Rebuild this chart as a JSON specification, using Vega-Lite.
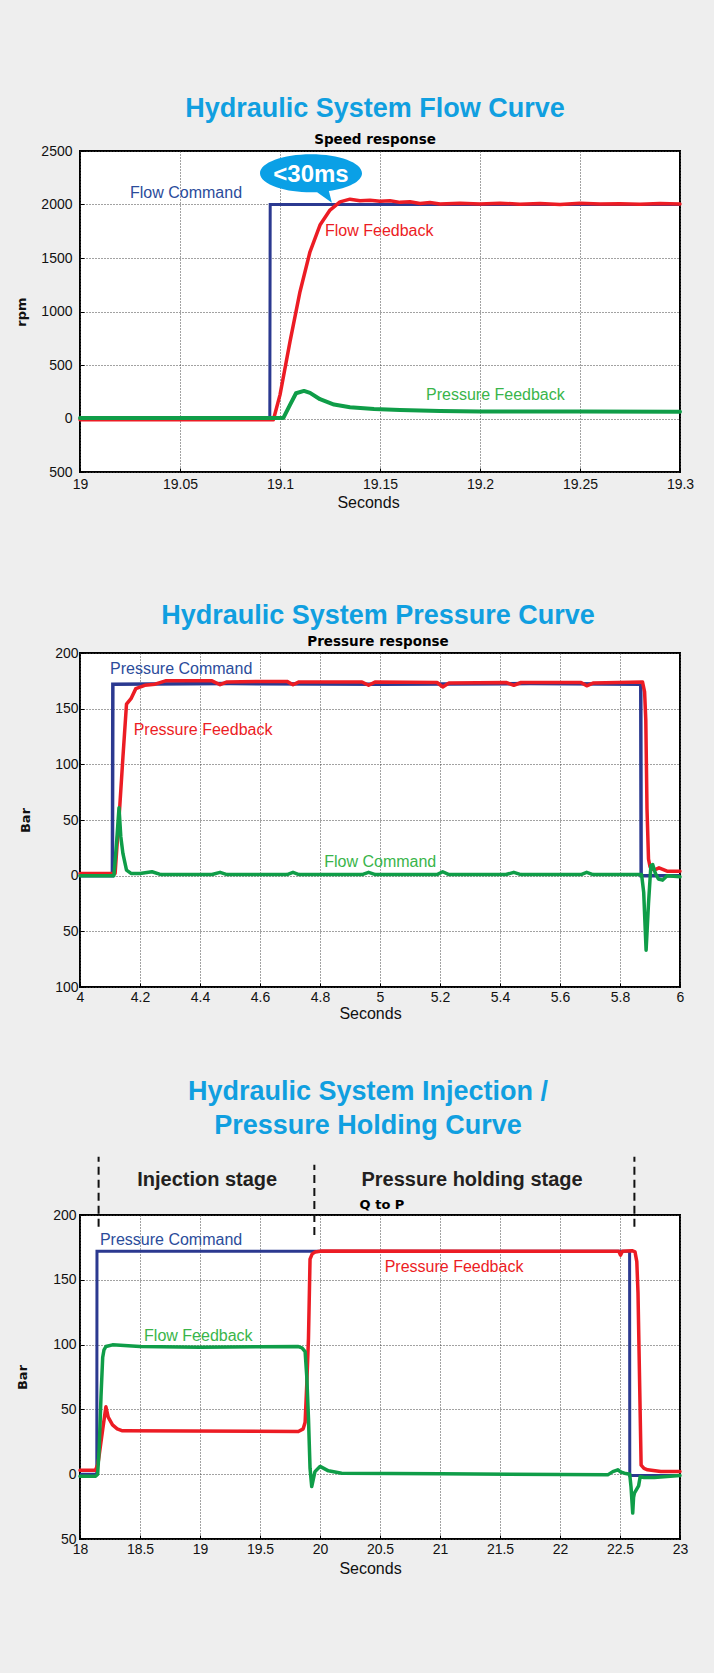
{
  "$schema": "https://vega.github.io/schema/vega-lite/v6.json",
  "background": "#eeeeee",
  "padding": {"left": 14, "top": 94, "right": 20, "bottom": 119},
  "autosize": {"type": "pad"},
  "config": {
    "view": {"stroke": "#000000", "strokeWidth": 2, "fill": "#ffffff"},
    "axis": {
      "domain": false, "grid": true, "gridColor": "#444444", "gridDash": [1, 2], "gridWidth": 1,
      "ticks": true, "tickSize": -4, "tickColor": "#000000", "tickWidth": 1,
      "labelFont": "Liberation Sans", "labelFontSize": 14, "labelColor": "#111111",
      "labelFlush": false, "labelOverlap": false,
      "titleFont": "Liberation Sans", "titleFontSize": 16, "titleFontWeight": "normal", "titleColor": "#111111"
    },
    "axisY": {"titleFont": "DejaVu Sans", "titleFontWeight": "bold", "titleFontSize": 13},
    "title": {"anchor": "middle", "frame": "group", "font": "Liberation Sans", "fontSize": 27, "fontWeight": "bold", "color": "#109fe0",
      "subtitleFont": "DejaVu Sans", "subtitleFontSize": 13.5, "subtitleFontWeight": "bold", "subtitleColor": "#000000"}
  },
  "datasets": {
    "c1_cmd": [{"t": 19, "v": 0}, {"t": 19.0949, "v": 0}, {"t": 19.0951, "v": 2000}, {"t": 19.3, "v": 2000}],
    "c1_flow": [
      {"t": 19.0, "v": -12}, {"t": 19.0967, "v": -12}, {"t": 19.1, "v": 221}, {"t": 19.105, "v": 718},
      {"t": 19.11, "v": 1185}, {"t": 19.115, "v": 1558}, {"t": 19.12, "v": 1808}, {"t": 19.125, "v": 1948},
      {"t": 19.13, "v": 2025}, {"t": 19.135, "v": 2050}, {"t": 19.14, "v": 2035}, {"t": 19.145, "v": 2040},
      {"t": 19.15, "v": 2030}, {"t": 19.155, "v": 2035}, {"t": 19.16, "v": 2020}, {"t": 19.165, "v": 2025},
      {"t": 19.17, "v": 2010}, {"t": 19.175, "v": 2018}, {"t": 19.18, "v": 2005}, {"t": 19.19, "v": 2012},
      {"t": 19.2, "v": 2005}, {"t": 19.21, "v": 2012}, {"t": 19.22, "v": 2003}, {"t": 19.23, "v": 2010},
      {"t": 19.24, "v": 2000}, {"t": 19.25, "v": 2012}, {"t": 19.26, "v": 2005}, {"t": 19.27, "v": 2008},
      {"t": 19.28, "v": 2002}, {"t": 19.29, "v": 2010}, {"t": 19.3, "v": 2005}
    ],
    "c1_pres": [
      {"t": 19.0, "v": 5}, {"t": 19.1017, "v": 5}, {"t": 19.105, "v": 128}, {"t": 19.108, "v": 236},
      {"t": 19.112, "v": 258}, {"t": 19.115, "v": 240}, {"t": 19.12, "v": 180}, {"t": 19.127, "v": 130},
      {"t": 19.135, "v": 105}, {"t": 19.147, "v": 88}, {"t": 19.16, "v": 80}, {"t": 19.18, "v": 70},
      {"t": 19.2, "v": 65}, {"t": 19.25, "v": 66}, {"t": 19.3, "v": 62}
    ],
    "c2_cmd": [
      {"t": 4, "v": 0}, {"t": 4.108, "v": 0}, {"t": 4.1095, "v": 172}, {"t": 4.5, "v": 172.5}, {"t": 5.0, "v": 172},
      {"t": 5.5, "v": 172.5}, {"t": 5.8692, "v": 172}, {"t": 5.8705, "v": 0}, {"t": 6, "v": 0}
    ],
    "c2_pfb": [
      {"t": 4, "v": 2}, {"t": 4.117, "v": 2}, {"t": 4.133, "v": 64}, {"t": 4.143, "v": 106}, {"t": 4.155, "v": 154},
      {"t": 4.17, "v": 159}, {"t": 4.186, "v": 168}, {"t": 4.216, "v": 171}, {"t": 4.25, "v": 172}, {"t": 4.285, "v": 175},
      {"t": 4.44, "v": 175}, {"t": 4.467, "v": 171.5}, {"t": 4.49, "v": 174}, {"t": 4.6, "v": 174.5}, {"t": 4.69, "v": 174.5},
      {"t": 4.71, "v": 171.5}, {"t": 4.73, "v": 174}, {"t": 4.94, "v": 174}, {"t": 4.962, "v": 171}, {"t": 4.985, "v": 174},
      {"t": 5.19, "v": 173.5}, {"t": 5.209, "v": 169.5}, {"t": 5.23, "v": 173}, {"t": 5.42, "v": 173.5}, {"t": 5.446, "v": 171},
      {"t": 5.47, "v": 173.5}, {"t": 5.67, "v": 173.5}, {"t": 5.689, "v": 170.5}, {"t": 5.71, "v": 173}, {"t": 5.875, "v": 174},
      {"t": 5.882, "v": 165}, {"t": 5.886, "v": 140}, {"t": 5.89, "v": 60}, {"t": 5.895, "v": 15}, {"t": 5.9, "v": 8},
      {"t": 5.914, "v": 5}, {"t": 5.93, "v": 7}, {"t": 5.957, "v": 4}, {"t": 6, "v": 4}
    ],
    "c2_flow": [
      {"t": 4, "v": 0}, {"t": 4.113, "v": 0}, {"t": 4.122, "v": 30}, {"t": 4.13, "v": 61}, {"t": 4.136, "v": 35},
      {"t": 4.143, "v": 20}, {"t": 4.155, "v": 5}, {"t": 4.17, "v": 2}, {"t": 4.2, "v": 2}, {"t": 4.24, "v": 3.5},
      {"t": 4.27, "v": 1}, {"t": 4.44, "v": 1}, {"t": 4.467, "v": 3}, {"t": 4.49, "v": 1}, {"t": 4.69, "v": 1},
      {"t": 4.71, "v": 3}, {"t": 4.73, "v": 1}, {"t": 4.94, "v": 1}, {"t": 4.962, "v": 3}, {"t": 4.985, "v": 1},
      {"t": 5.19, "v": 1}, {"t": 5.209, "v": 3.5}, {"t": 5.23, "v": 1}, {"t": 5.42, "v": 1}, {"t": 5.446, "v": 3},
      {"t": 5.47, "v": 1}, {"t": 5.67, "v": 1}, {"t": 5.689, "v": 3}, {"t": 5.71, "v": 1}, {"t": 5.872, "v": 1},
      {"t": 5.879, "v": -15}, {"t": 5.887, "v": -67}, {"t": 5.895, "v": -25}, {"t": 5.903, "v": 9}, {"t": 5.909, "v": 10},
      {"t": 5.918, "v": 2}, {"t": 5.928, "v": -3}, {"t": 5.942, "v": -4}, {"t": 5.957, "v": 0}, {"t": 6, "v": -1}
    ],
    "c3_cmd": [
      {"t": 18, "v": 0}, {"t": 18.14, "v": 0}, {"t": 18.1415, "v": 172}, {"t": 22.58, "v": 172},
      {"t": 22.5815, "v": -1}, {"t": 23, "v": -1}
    ],
    "c3_pfb": [
      {"t": 18, "v": 3}, {"t": 18.128, "v": 3}, {"t": 18.15, "v": 8}, {"t": 18.19, "v": 35}, {"t": 18.216, "v": 52},
      {"t": 18.235, "v": 44}, {"t": 18.271, "v": 38}, {"t": 18.31, "v": 35}, {"t": 18.354, "v": 33.5}, {"t": 19.82, "v": 33},
      {"t": 19.86, "v": 35}, {"t": 19.876, "v": 40}, {"t": 19.89, "v": 70}, {"t": 19.904, "v": 105}, {"t": 19.917, "v": 166},
      {"t": 19.935, "v": 170}, {"t": 19.96, "v": 171.5}, {"t": 20.014, "v": 172.2}, {"t": 22.49, "v": 172}, {"t": 22.504, "v": 169},
      {"t": 22.52, "v": 172}, {"t": 22.6, "v": 172.5}, {"t": 22.625, "v": 171.5}, {"t": 22.64, "v": 164}, {"t": 22.65, "v": 140},
      {"t": 22.676, "v": 7}, {"t": 22.7, "v": 4.5}, {"t": 22.73, "v": 3.4}, {"t": 22.84, "v": 2}, {"t": 23, "v": 2}
    ],
    "c3_flow": [
      {"t": 18, "v": -1.5}, {"t": 18.13, "v": -1.5}, {"t": 18.147, "v": 0}, {"t": 18.16, "v": 20}, {"t": 18.175, "v": 60},
      {"t": 18.189, "v": 90}, {"t": 18.2, "v": 96}, {"t": 18.216, "v": 98.5}, {"t": 18.271, "v": 99.8}, {"t": 18.5, "v": 98.5},
      {"t": 19, "v": 98}, {"t": 19.5, "v": 98.3}, {"t": 19.82, "v": 98.5}, {"t": 19.85, "v": 97.5}, {"t": 19.876, "v": 94.6},
      {"t": 19.89, "v": 75}, {"t": 19.904, "v": 43}, {"t": 19.917, "v": 4.6}, {"t": 19.931, "v": -9.5}, {"t": 19.958, "v": 2},
      {"t": 20.0, "v": 6}, {"t": 20.07, "v": 2.6}, {"t": 20.18, "v": 0.8}, {"t": 21, "v": 0.3}, {"t": 22, "v": -0.3},
      {"t": 22.398, "v": -0.5}, {"t": 22.44, "v": 2}, {"t": 22.481, "v": 3.4}, {"t": 22.51, "v": 1.5}, {"t": 22.537, "v": 0.8},
      {"t": 22.581, "v": 0}, {"t": 22.592, "v": -10}, {"t": 22.606, "v": -30}, {"t": 22.613, "v": -18}, {"t": 22.62, "v": -14.6},
      {"t": 22.655, "v": -9}, {"t": 22.668, "v": -2}, {"t": 22.7, "v": -2.5}, {"t": 22.786, "v": -2.5}, {"t": 23, "v": -1}
    ]
  },
  "vconcat": [
    {
      "width": 600,
      "height": 321,
      "title": {"text": "Hydraulic System Flow Curve", "subtitle": "Speed response", "dx": -5, "offset": -3.6, "subtitlePadding": 10},
      "encoding": {
        "x": {"field": "t", "type": "quantitative", "title": "Seconds",
          "scale": {"domain": [19, 19.3], "nice": false, "zero": false},
          "axis": {"values": [19, 19.05, 19.1, 19.15, 19.2, 19.25, 19.3], "labelExpr": "format(datum.value, '~g')", "labelPadding": 9, "titlePadding": 3, "titleX": 288}},
        "y": {"field": "v", "type": "quantitative", "title": "rpm",
          "scale": {"domain": [-500, 2500], "nice": false, "zero": false},
          "axis": {"values": [-500, 0, 500, 1000, 1500, 2000, 2500], "labelExpr": "format(abs(datum.value), 'd')", "labelPadding": 12, "titlePadding": 12}}
      },
      "layer": [
        {"data": {"name": "c1_cmd"}, "mark": {"type": "line", "color": "#2b3990", "strokeWidth": 3, "strokeJoin": "miter"}},
        {"data": {"name": "c1_flow"}, "mark": {"type": "line", "color": "#ec1c24", "strokeWidth": 3.5, "strokeJoin": "round", "strokeCap": "round"}},
        {"data": {"name": "c1_pres"}, "mark": {"type": "line", "color": "#0f9d48", "strokeWidth": 4, "strokeJoin": "round", "strokeCap": "round"}},
        {"data": {"values": [{"t": 19.1155, "v": 2292}]},
          "mark": {"type": "point", "filled": true, "opacity": 1, "color": "#0aa0e6", "size": 10404,
            "shape": "M-1,0 A1,0.3725 0 0 1 1,0 A1,0.3725 0 0 1 0.35,0.349 L0.41,0.58 L0.12,0.37 A1,0.3725 0 0 1 -1,0 Z"}},
        {"data": {"values": [{"t": 19.1155, "v": 2280, "label": "<30ms"}]},
          "mark": {"type": "text", "color": "#ffffff", "font": "Liberation Sans", "fontWeight": "bold", "fontSize": 24, "align": "center", "baseline": "middle"},
          "encoding": {"text": {"field": "label"}}},
        {"data": {"values": [{"t": 19.025, "v": 2108, "label": "Flow Command"}]},
          "mark": {"type": "text", "color": "#2b4c9b", "font": "Liberation Sans", "fontSize": 16, "align": "left", "baseline": "middle"},
          "encoding": {"text": {"field": "label"}}},
        {"data": {"values": [{"t": 19.1225, "v": 1757, "label": "Flow Feedback"}]},
          "mark": {"type": "text", "color": "#ec1c24", "font": "Liberation Sans", "fontSize": 16, "align": "left", "baseline": "middle"},
          "encoding": {"text": {"field": "label"}}},
        {"data": {"values": [{"t": 19.173, "v": 216, "label": "Pressure Feedback"}]},
          "mark": {"type": "text", "color": "#39b54a", "font": "Liberation Sans", "fontSize": 16, "align": "left", "baseline": "middle"},
          "encoding": {"text": {"field": "label"}}}
      ]
    },
    {
      "spacing": 54,
      "vconcat": [
        {
          "width": 600,
          "height": 334,
          "title": {"text": "Hydraulic System Pressure Curve", "subtitle": "Pressure response", "dx": -2, "offset": -3.6, "subtitlePadding": 5},
          "encoding": {
            "x": {"field": "t", "type": "quantitative", "title": "Seconds",
              "scale": {"domain": [4, 6], "nice": false, "zero": false},
              "axis": {"values": [4, 4.2, 4.4, 4.6, 4.8, 5, 5.2, 5.4, 5.6, 5.8, 6], "labelExpr": "format(datum.value, '~g')", "labelPadding": 7, "titlePadding": 1, "titleX": 290}},
            "y": {"field": "v", "type": "quantitative", "title": "Bar",
              "scale": {"domain": [-100, 200], "nice": false, "zero": false},
              "axis": {"values": [-100, -50, 0, 50, 100, 150, 200], "labelExpr": "format(abs(datum.value), 'd')", "labelPadding": 6, "titlePadding": 22}}
          },
          "layer": [
            {"data": {"name": "c2_cmd"}, "mark": {"type": "line", "color": "#2b3990", "strokeWidth": 3.5, "strokeJoin": "miter"}},
            {"data": {"name": "c2_pfb"}, "mark": {"type": "line", "color": "#ec1c24", "strokeWidth": 3.5, "strokeJoin": "round", "strokeCap": "round"}},
            {"data": {"name": "c2_flow"}, "mark": {"type": "line", "color": "#0f9d48", "strokeWidth": 3.5, "strokeJoin": "round", "strokeCap": "round"}},
            {"data": {"values": [{"t": 4.1, "v": 185.6, "label": "Pressure Command"}]},
              "mark": {"type": "text", "color": "#2b4c9b", "font": "Liberation Sans", "fontSize": 16, "align": "left", "baseline": "middle"},
              "encoding": {"text": {"field": "label"}}},
            {"data": {"values": [{"t": 4.179, "v": 131, "label": "Pressure Feedback"}]},
              "mark": {"type": "text", "color": "#ec1c24", "font": "Liberation Sans", "fontSize": 16, "align": "left", "baseline": "middle"},
              "encoding": {"text": {"field": "label"}}},
            {"data": {"values": [{"t": 4.814, "v": 12.6, "label": "Flow Command"}]},
              "mark": {"type": "text", "color": "#39b54a", "font": "Liberation Sans", "fontSize": 16, "align": "left", "baseline": "middle"},
              "encoding": {"text": {"field": "label"}}}
          ]
        },
        {
          "width": 600,
          "height": 324,
          "title": {"text": ["Hydraulic System Injection /", "Pressure Holding Curve"], "lineHeight": 34, "dx": -12, "offset": 16},
          "encoding": {
            "x": {"field": "t", "type": "quantitative", "title": "Seconds",
              "scale": {"domain": [18, 23], "nice": false, "zero": false},
              "axis": {"values": [18, 18.5, 19, 19.5, 20, 20.5, 21, 21.5, 22, 22.5, 23], "labelExpr": "format(datum.value, '~g')", "labelPadding": 7.5, "titlePadding": 4, "titleX": 290}},
            "y": {"field": "v", "type": "quantitative", "title": "Bar",
              "scale": {"domain": [-50, 200], "nice": false, "zero": false},
              "axis": {"values": [-50, 0, 50, 100, 150, 200], "labelExpr": "format(abs(datum.value), 'd')", "labelPadding": 8, "titlePadding": 23}}
          },
          "layer": [
            {"data": {"values": [{"t": 18.155, "v": 191, "v2": 245}, {"t": 19.953, "v": 184.6, "v2": 238.7}, {"t": 22.62, "v": 191, "v2": 245}]},
              "mark": {"type": "rule", "color": "#111111", "strokeWidth": 2, "strokeDash": [8, 5]},
              "encoding": {"y2": {"field": "v2"}}},
            {"data": {"name": "c3_cmd"}, "mark": {"type": "line", "color": "#2b3990", "strokeWidth": 3, "strokeJoin": "miter"}},
            {"data": {"name": "c3_pfb"}, "mark": {"type": "line", "color": "#ec1c24", "strokeWidth": 3.5, "strokeJoin": "round", "strokeCap": "round"}},
            {"data": {"name": "c3_flow"}, "mark": {"type": "line", "color": "#0f9d48", "strokeWidth": 3.5, "strokeJoin": "round", "strokeCap": "round"}},
            {"data": {"values": [{"t": 18.166, "v": 180.7, "label": "Pressure Command"}]},
              "mark": {"type": "text", "color": "#2b4c9b", "font": "Liberation Sans", "fontSize": 16, "align": "left", "baseline": "middle"},
              "encoding": {"text": {"field": "label"}}},
            {"data": {"values": [{"t": 18.534, "v": 106.7, "label": "Flow Feedback"}]},
              "mark": {"type": "text", "color": "#39b54a", "font": "Liberation Sans", "fontSize": 16, "align": "left", "baseline": "middle"},
              "encoding": {"text": {"field": "label"}}},
            {"data": {"values": [{"t": 20.539, "v": 160, "label": "Pressure Feedback"}]},
              "mark": {"type": "text", "color": "#ec1c24", "font": "Liberation Sans", "fontSize": 16, "align": "left", "baseline": "middle"},
              "encoding": {"text": {"field": "label"}}},
            {"data": {"values": [{"t": 19.06, "v": 227, "label": "Injection stage"}, {"t": 21.267, "v": 227, "label": "Pressure holding stage"}]},
              "mark": {"type": "text", "color": "#231f20", "font": "Liberation Sans", "fontWeight": "bold", "fontSize": 20, "align": "center", "baseline": "middle"},
              "encoding": {"text": {"field": "label"}}},
            {"data": {"values": [{"t": 20.33, "v": 208, "label": "Q to P"}]},
              "mark": {"type": "text", "color": "#000000", "font": "DejaVu Sans", "fontWeight": "bold", "fontSize": 13, "align": "left", "baseline": "middle"},
              "encoding": {"text": {"field": "label"}}}
          ]
        }
      ]
    }
  ],
  "spacing": 90
}
